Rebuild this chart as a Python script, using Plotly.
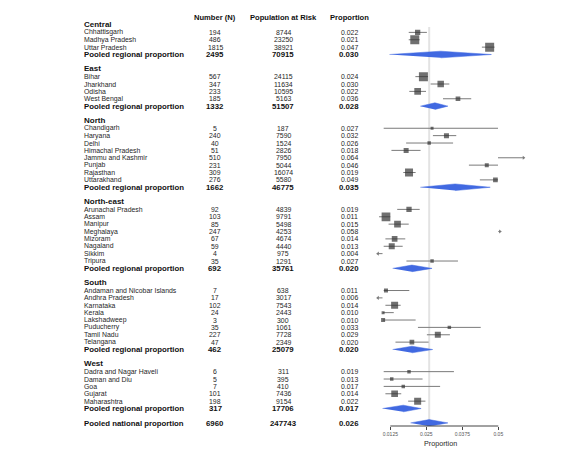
import plotly.graph_objects as go

# ---------------- data ----------------
regions = ["Central", "East", "North", "North-east", "South", "West"]
region_sizes = [3, 4, 8, 8, 8, 5]

states = [
    "Chhattisgarh", "Madhya Pradesh", "Uttar Pradesh",
    "Bihar", "Jharkhand", "Odisha", "West Bengal",
    "Chandigarh", "Haryana", "Delhi", "Himachal Pradesh", "Jammu and Kashmir",
    "Punjab", "Rajasthan", "Uttarakhand",
    "Arunachal Pradesh", "Assam", "Manipur", "Meghalaya", "Mizoram", "Nagaland",
    "Sikkim", "Tripura",
    "Andaman and Nicobar Islands", "Andhra Pradesh", "Karnataka", "Kerala",
    "Lakshadweep", "Puducherry", "Tamil Nadu", "Telangana",
    "Dadra and Nagar Haveli", "Daman and Diu", "Goa", "Gujarat", "Maharashtra",
]
cases = [194, 486, 1815,
         567, 347, 233, 185,
         5, 240, 40, 51, 510, 231, 309, 276,
         92, 103, 85, 247, 67, 59, 4, 35,
         7, 17, 102, 24, 3, 35, 227, 47,
         6, 5, 7, 101, 198]
population = [8744, 23250, 38921,
              24115, 11634, 10595, 5163,
              187, 7590, 1524, 2826, 7950, 5044, 16074, 5580,
              4839, 9791, 5498, 4253, 4674, 4440, 975, 1291,
              638, 3017, 7543, 2443, 300, 1061, 7728, 2349,
              311, 395, 410, 7436, 9154]
proportion = [0.022, 0.021, 0.047,
              0.024, 0.030, 0.022, 0.036,
              0.027, 0.032, 0.026, 0.018, 0.064, 0.046, 0.019, 0.049,
              0.019, 0.011, 0.015, 0.058, 0.014, 0.013, 0.004, 0.027,
              0.011, 0.006, 0.014, 0.010, 0.010, 0.033, 0.029, 0.020,
              0.019, 0.013, 0.017, 0.014, 0.022]
# visible extent of the confidence interval lines (clipped as drawn)
ci_lower = [0.0189, 0.0189, 0.0443,
            0.0212, 0.0265, 0.0191, 0.0308,
            0.0102, 0.0273, 0.0180, 0.0129, 0.0499, 0.0398, 0.0170, 0.0436,
            0.0149, 0.0086, 0.0119, 0.0500, 0.0108, 0.0102, 0.0082, 0.0181,
            0.0102, 0.0082, 0.0108, 0.0100, 0.0100, 0.0221, 0.0252, 0.0143,
            0.0102, 0.0102, 0.0102, 0.0108, 0.0187]
ci_upper = [0.0252, 0.0227, 0.0487,
            0.0256, 0.0330, 0.0249, 0.0406,
            0.0499, 0.0354, 0.0343, 0.0230, 0.0588, 0.0499, 0.0213, 0.0499,
            0.0227, 0.0125, 0.0189, 0.0506, 0.0177, 0.0168, 0.0098, 0.0360,
            0.0191, 0.0098, 0.0161, 0.0137, 0.0213, 0.0439, 0.0332, 0.0258,
            0.0346, 0.0237, 0.0298, 0.0163, 0.0247]
# relative study weights (square area)
weight = [28, 81, 81,
          81, 42, 45, 22,
          9, 25, 12, 25, 64, 16, 64, 22,
          28, 76, 45, 49, 32, 36, 9, 12,
          16, 12, 49, 9, 16, 12, 36, 22,
          12, 12, 12, 45, 49]

pooled_cases = [2495, 1332, 1662, 692, 462, 317]
pooled_population = [70915, 51507, 46775, 35761, 25079, 17706]
pooled_proportion = [0.030, 0.028, 0.035, 0.020, 0.020, 0.017]
pooled_lower = [0.0122, 0.0229, 0.0229, 0.0133, 0.0133, 0.0098]
pooled_upper = [0.0476, 0.0325, 0.0472, 0.0270, 0.0272, 0.0232]

national_cases = 6960
national_population = 247743
national_proportion = 0.026
national_lower = 0.0195
national_upper = 0.0325

x_tickvals = [0.0125, 0.025, 0.0375, 0.05]
x_ticktext = ["0.0125", "0.025", "0.0375", "0.05"]
display_limits = (0.0095, 0.0505)

# ---------------- styling ----------------
OFF = 8  # page body margin offset
W, H = 580 - 2 * OFF, 471 - 2 * OFF
FONT = "Arial, Liberation Sans, sans-serif"
TXT = "#262626"
BOLD = "#111111"
SQ = "#333333"
LINE = "#7a7a7a"
BLUE = "#4169E1"
X_RANGE = [0.0075, 0.0595]
Y_RANGE = [54.37, -1.9]
X_DOMAIN = [(375.9 - OFF) / W, (525.66 - OFF) / W]
COL_NAME, COL_N, COL_POP, COL_PROP = [(p - OFF) / W for p in (81.5, 215, 283, 349)]

annotations = []


def txt(x, y, s, size, bold=False, anchor="center", color=None):
    annotations.append(dict(
        x=x, y=y, xref="paper", yref="y", text=f"<b>{s}</b>" if bold else s,
        showarrow=False, xanchor=anchor, yanchor="middle",
        font=dict(family=FONT, size=size, color=color or (BOLD if bold else TXT))))


# headers
txt(COL_N, -1, "Number (N)", 7.6, True)
txt(COL_POP, -1, "Population at Risk", 7.6, True)
txt(COL_PROP, -1, "Proportion", 7.6, True)

ci_x, ci_y = [], []
sq_x, sq_y, sq_s = [], [], []
arr_l_x, arr_l_y, arr_r_x, arr_r_y = [], [], [], []
dia_x, dia_y = [], []

row = 0
idx = 0
for g, reg in enumerate(regions):
    txt(COL_NAME, row - 0.08, reg, 8, True, "left")
    row += 1
    for _ in range(region_sizes[g]):
        txt(COL_NAME, row, states[idx], 6.9, False, "left")
        txt(COL_N, row, str(cases[idx]), 6.9)
        txt(COL_POP, row, str(population[idx]), 6.9)
        txt(COL_PROP, row, f"{proportion[idx]:.3f}", 6.9)
        ci_x += [ci_lower[idx], ci_upper[idx], None]
        ci_y += [row, row, None]
        p = proportion[idx]
        if display_limits[0] <= p <= display_limits[1]:
            sq_x.append(p)
            sq_y.append(row)
            sq_s.append(weight[idx] ** 0.5)
        elif p < display_limits[0]:
            arr_l_x.append(ci_lower[idx]); arr_l_y.append(row)
        else:
            arr_r_x.append(ci_upper[idx]); arr_r_y.append(row)
        idx += 1
        row += 1
    txt(COL_NAME, row, "Pooled regional proportion", 7.8, True, "left")
    txt(COL_N, row, str(pooled_cases[g]), 7.8, True)
    txt(COL_POP, row, str(pooled_population[g]), 7.8, True)
    txt(COL_PROP, row, f"{pooled_proportion[g]:.3f}", 7.8, True)
    h = 0.45
    dia_x += [pooled_lower[g], pooled_proportion[g], pooled_upper[g], pooled_proportion[g], None]
    dia_y += [row, row - h, row, row + h, None]
    row += 2

# national
txt(COL_NAME, row, "Pooled national proportion", 7.8, True, "left")
txt(COL_N, row, str(national_cases), 7.8, True)
txt(COL_POP, row, str(national_population), 7.8, True)
txt(COL_PROP, row, f"{national_proportion:.3f}", 7.8, True)
dia_x += [national_lower, national_proportion, national_upper, national_proportion, None]
dia_y += [row - 0.05, row - 0.5, row - 0.05, row + 0.4, None]

# x-axis title
plot_top, plot_bottom = 10.7 - OFF, 426.0 - OFF
annotations.append(dict(
    x=(440 - OFF) / W, y=(plot_bottom - (444 - OFF)) / (plot_bottom - plot_top),
    xref="paper", yref="paper",
    text="Proportion", showarrow=False, xanchor="center", yanchor="middle",
    font=dict(family=FONT, size=7.2, color="#2a2a2a")))

fig = go.Figure()
fig.add_trace(go.Scatter(x=ci_x, y=ci_y, mode="lines", line=dict(color=LINE, width=1),
                         hoverinfo="skip", showlegend=False))
fig.add_trace(go.Scatter(x=arr_l_x, y=arr_l_y, mode="markers",
                         marker=dict(symbol="triangle-left", size=3.5, color=LINE),
                         hoverinfo="skip", showlegend=False))
fig.add_trace(go.Scatter(x=arr_r_x, y=arr_r_y, mode="markers",
                         marker=dict(symbol="triangle-right", size=3.5, color=LINE),
                         hoverinfo="skip", showlegend=False))
fig.add_trace(go.Scatter(x=sq_x, y=sq_y, mode="markers",
                         marker=dict(symbol="square", size=sq_s, color=SQ, line=dict(width=0)),
                         showlegend=False))
fig.add_trace(go.Scatter(x=dia_x, y=dia_y, mode="lines", fill="toself", fillcolor=BLUE,
                         line=dict(color=BLUE, width=0.5), showlegend=False))

shapes = [
    dict(type="line", xref="x", yref="y", x0=national_proportion, x1=national_proportion,
         y0=0.27, y1=Y_RANGE[0], line=dict(color="#e3e3e3", width=2), layer="below"),
    dict(type="line", xref="x", yref="paper", x0=x_tickvals[0], x1=x_tickvals[-1],
         y0=0, y1=0, line=dict(color="#444444", width=1)),
]

fig.update_layout(
    width=W, height=H, autosize=False,
    margin=dict(l=0, r=0, t=plot_top, b=H - plot_bottom, pad=0),
    paper_bgcolor="white", plot_bgcolor="white",
    font=dict(family=FONT, color="#2a2a2a"),
    xaxis=dict(domain=X_DOMAIN, range=X_RANGE, showgrid=False, zeroline=False, showline=False,
               tickvals=x_tickvals, ticktext=x_ticktext, ticks="outside", ticklen=3,
               tickcolor="#444444", tickwidth=1, tickfont=dict(size=5, color="#555555", family=FONT)),
    yaxis=dict(range=Y_RANGE, visible=False, showgrid=False, zeroline=False),
    annotations=annotations, shapes=shapes, showlegend=False,
)

fig.write_html("out.html")
